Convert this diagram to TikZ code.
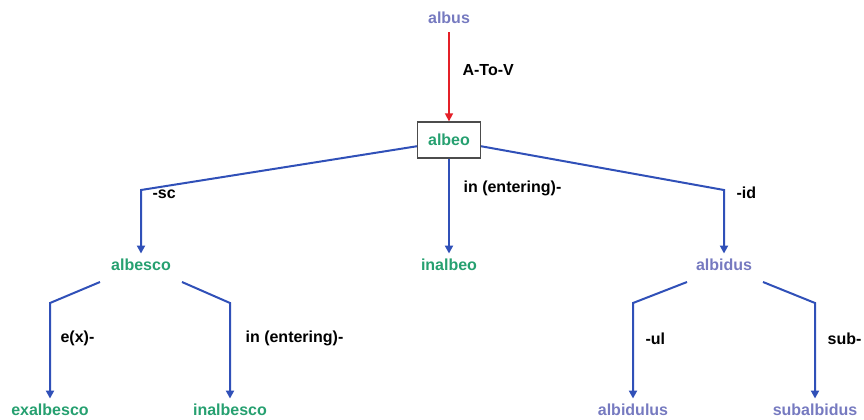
\documentclass[tikz,border=0pt]{standalone}
\usepackage{fontspec}
\setmainfont{Liberation Sans}
\usetikzlibrary{arrows.meta}
\definecolor{verbgreen}{RGB}{38,160,112}
\definecolor{adjpurple}{RGB}{118,122,192}
\definecolor{linkblue}{RGB}{48,80,184}
\definecolor{atovred}{RGB}{228,32,40}

\begin{document}
\begin{tikzpicture}[x=0.75pt,y=-0.75pt]
		\tikzstyle{every node}+=[font=\bfseries\fontsize{12}{14}\selectfont, inner sep=1pt]
		\tikzstyle{verb}=[text=verbgreen]
		\tikzstyle{adj}=[text=adjpurple]
		\tikzstyle{link}=[draw=linkblue, line width=1.5pt, -{Triangle[width=6pt,length=6pt]}, shorten >=3pt]
		\tikzstyle{affix}=[anchor=west]
		\useasboundingbox (0,0) rectangle (864,419);
		% words
		\node [adj] (albus) at (449,18) {albus};
		\node [verb, draw=black!70, line width=1pt, minimum width=47pt, minimum height=27pt] (albeo) at (449,140) {albeo};
		\node [verb] (albesco) at (141,265) {albesco};
		\node [verb] (inalbeo) at (449,265) {inalbeo};
		\node [adj] (albidus) at (724,265) {albidus};
		\node [verb] (exalbesco) at (50,410) {exalbesco};
		\node [verb] (inalbesco) at (230,410) {inalbesco};
		\node [adj] (albidulus) at (633,410) {albidulus};
		\node [adj] (subalbidus) at (815,410) {subalbidus};
		% bends
		\coordinate (scbend) at (141,190);
		\coordinate (idbend) at (724,190);
		\coordinate (exstart) at (100,282);
		\coordinate (exbend) at (50,303);
		\coordinate (instart) at (182,282);
		\coordinate (inbend) at (230,303);
		\coordinate (ulstart) at (687,282);
		\coordinate (ulbend) at (633,303);
		\coordinate (substart) at (763,282);
		\coordinate (subbend) at (815,303);
		% connectors
		\draw [atovred, line width=1.2pt, -{Triangle[width=6pt,length=6pt]}, shorten <=5pt] (albus) -- (albeo);
		\draw [link] (albeo.191) -- (scbend) -- (albesco);
		\draw [link] (albeo) -- (inalbeo);
		\draw [link] (albeo.349) -- (idbend) -- (albidus);
		\draw [link] (exstart) -- (exbend) -- (exalbesco);
		\draw [link] (instart) -- (inbend) -- (inalbesco);
		\draw [link] (ulstart) -- (ulbend) -- (albidulus);
		\draw [link] (substart) -- (subbend) -- (subalbidus);
		% affixes
		\node [affix] (atov) at (461,70) {A-To-V};
		\node [affix] (sc) at (151,194) {-sc};
		\node [affix] (inmid) at (462,188) {in (entering)-};
		\node [affix] (id) at (735,193) {-id};
		\node [affix] (ex) at (59,338) {e(x)-};
		\node [affix] (inlow) at (244,338) {in (entering)-};
		\node [affix] (ul) at (644,339) {-ul};
		\node [affix] (sub) at (826,339) {sub-};
		\end{tikzpicture}
\end{document}
